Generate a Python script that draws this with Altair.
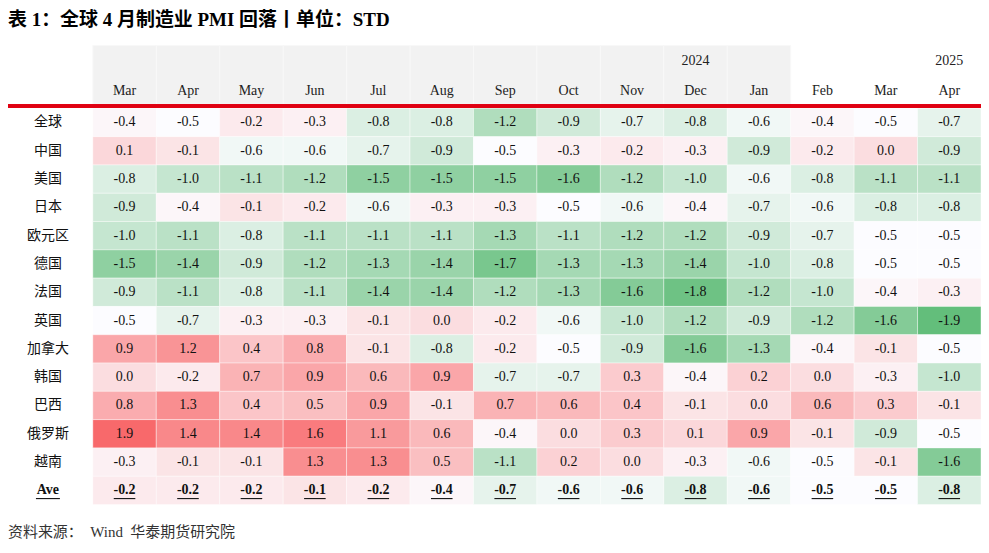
import altair as alt
import pandas as pd

# ---------------- data ----------------
months = ["Mar", "Apr", "May", "Jun", "Jul", "Aug", "Sep", "Oct", "Nov", "Dec", "Jan", "Feb", "Mar", "Apr"]
year_cols = [9, 13]
year_text = ["2024", "2025"]
shaded_header_cols = 11

rows = ["全球", "中国", "美国", "日本", "欧元区", "德国", "法国", "英国", "加拿大", "韩国", "巴西", "俄罗斯", "越南", "Ave"]

v_global = [-0.4, -0.5, -0.2, -0.3, -0.8, -0.8, -1.2, -0.9, -0.7, -0.8, -0.6, -0.4, -0.5, -0.7]
v_china = [0.1, -0.1, -0.6, -0.6, -0.7, -0.9, -0.5, -0.3, -0.2, -0.3, -0.9, -0.2, 0.0, -0.9]
v_us = [-0.8, -1.0, -1.1, -1.2, -1.5, -1.5, -1.5, -1.6, -1.2, -1.0, -0.6, -0.8, -1.1, -1.1]
v_japan = [-0.9, -0.4, -0.1, -0.2, -0.6, -0.3, -0.3, -0.5, -0.6, -0.4, -0.7, -0.6, -0.8, -0.8]
v_euro = [-1.0, -1.1, -0.8, -1.1, -1.1, -1.1, -1.3, -1.1, -1.2, -1.2, -0.9, -0.7, -0.5, -0.5]
v_germany = [-1.5, -1.4, -0.9, -1.2, -1.3, -1.4, -1.7, -1.3, -1.3, -1.4, -1.0, -0.8, -0.5, -0.5]
v_france = [-0.9, -1.1, -0.8, -1.1, -1.4, -1.4, -1.2, -1.3, -1.6, -1.8, -1.2, -1.0, -0.4, -0.3]
v_uk = [-0.5, -0.7, -0.3, -0.3, -0.1, 0.0, -0.2, -0.6, -1.0, -1.2, -0.9, -1.2, -1.6, -1.9]
v_canada = [0.9, 1.2, 0.4, 0.8, -0.1, -0.8, -0.2, -0.5, -0.9, -1.6, -1.3, -0.4, -0.1, -0.5]
v_korea = [0.0, -0.2, 0.7, 0.9, 0.6, 0.9, -0.7, -0.7, 0.3, -0.4, 0.2, 0.0, -0.3, -1.0]
v_brazil = [0.8, 1.3, 0.4, 0.5, 0.9, -0.1, 0.7, 0.6, 0.4, -0.1, 0.0, 0.6, 0.3, -0.1]
v_russia = [1.9, 1.4, 1.4, 1.6, 1.1, 0.6, -0.4, 0.0, 0.3, 0.1, 0.9, -0.1, -0.9, -0.5]
v_vietnam = [-0.3, -0.1, -0.1, 1.3, 1.3, 0.5, -1.1, 0.2, 0.0, -0.3, -0.6, -0.5, -0.1, -1.6]
v_ave = [-0.2, -0.2, -0.2, -0.1, -0.2, -0.4, -0.7, -0.6, -0.6, -0.8, -0.6, -0.5, -0.5, -0.8]

matrix = [v_global, v_china, v_us, v_japan, v_euro, v_germany, v_france, v_uk,
          v_canada, v_korea, v_brazil, v_russia, v_vietnam, v_ave]

title_text = "表 1：全球 4 月制造业 PMI 回落丨单位：STD"
source_text = "资料来源：\u00a0\u00a0Wind\u00a0\u00a0华泰期货研究院"

# ---------------- tables ----------------
cells = []
for r, (name, vals) in enumerate(zip(rows, matrix)):
    for c, v in enumerate(vals):
        cells.append({"r": r, "c": c, "v": v, "label": f"{v:.1f}", "ave": name == "Ave"})
cells = pd.DataFrame(cells)

head = pd.DataFrame({"c": list(range(len(months))), "month": months})
head["shaded"] = head["c"] < shaded_header_cols
years = pd.DataFrame({"c": year_cols, "year": year_text})
rowdf = pd.DataFrame({"r": list(range(len(rows))), "name": rows})

W, H = 975, 533
SERIF = "Liberation Serif, Noto Sans CJK SC"
CJK = "Noto Sans CJK SC"
FS = 14

xs = alt.Scale(domain=[0, 14], range=[85, 975], nice=False, zero=False)
ys = alt.Scale(domain=[0, 14], range=[100, 497], nice=False, zero=False)
cs = alt.Scale(domain=[-1.9, -0.5, 1.9], range=["#63BE7B", "#FCFCFF", "#F8696B"], interpolate="rgb")

base_cells = alt.Chart(cells).transform_calculate(
    c2="datum.c + 1", r2="datum.r + 1", cm="datum.c + 0.5", rm="datum.r + 0.5"
)

header_rect = alt.Chart(head).transform_filter("datum.shaded").transform_calculate(
    c2="datum.c + 1"
).mark_rect(color="#f2f2f2", stroke="#f8f8f8", strokeWidth=1).encode(
    x=alt.X("c:Q", scale=xs, axis=None), x2="c2:Q",
    y=alt.value(37), y2=alt.value(96)
)

month_text = alt.Chart(head).transform_calculate(cm="datum.c + 0.5").mark_text(
    font=SERIF, fontSize=FS, color="#222222"
).encode(x=alt.X("cm:Q", scale=xs, axis=None), y=alt.value(83), text="month:N")

year_mark = alt.Chart(years).transform_calculate(cm="datum.c + 0.5").mark_text(
    font=SERIF, fontSize=FS, color="#222222"
).encode(x=alt.X("cm:Q", scale=xs, axis=None), y=alt.value(53), text="year:N")

red_line = alt.Chart(head).mark_rule(color="#e00012", strokeWidth=2.4).encode(
    x=alt.value(0), x2=alt.value(W), y=alt.value(97.7)
)

cell_rect = base_cells.mark_rect(stroke="#ffffff", strokeWidth=0.8, strokeOpacity=0.5).encode(
    x=alt.X("c:Q", scale=xs, axis=None), x2="c2:Q",
    y=alt.Y("r:Q", scale=ys, axis=None), y2="r2:Q",
    color=alt.Color("v:Q", scale=cs, legend=None),
)

cell_text = base_cells.transform_filter("!datum.ave").mark_text(
    font=SERIF, fontSize=FS, color="#111111"
).encode(x=alt.X("cm:Q", scale=xs, axis=None), y=alt.Y("rm:Q", scale=ys, axis=None), text="label:N")

ave_text = base_cells.transform_filter("datum.ave").mark_text(
    font=SERIF, fontSize=FS, fontWeight="bold", color="#111111"
).encode(x=alt.X("cm:Q", scale=xs, axis=None), y=alt.Y("rm:Q", scale=ys, axis=None), text="label:N")

ave_underline = base_cells.transform_filter("datum.ave").transform_calculate(
    ux1="datum.c + 0.5 - 0.17", ux2="datum.c + 0.5 + 0.17", uy="datum.r + 0.79"
).mark_rule(color="#111111", strokeWidth=1.1).encode(
    x=alt.X("ux1:Q", scale=xs, axis=None), x2="ux2:Q",
    y=alt.Y("uy:Q", scale=ys, axis=None)
)

row_text = alt.Chart(rowdf).transform_filter("datum.name != 'Ave'").transform_calculate(
    rm="datum.r + 0.5"
).mark_text(font=CJK, fontSize=FS, color="#111111").encode(
    x=alt.value(40), y=alt.Y("rm:Q", scale=ys, axis=None), text="name:N"
)

ave_label = alt.Chart(rowdf).transform_filter("datum.name == 'Ave'").transform_calculate(
    rm="datum.r + 0.5"
).mark_text(font=SERIF, fontSize=FS, fontWeight="bold", color="#111111").encode(
    x=alt.value(40), y=alt.Y("rm:Q", scale=ys, axis=None), text="name:N"
)

ave_label_ul = alt.Chart(rowdf).transform_filter("datum.name == 'Ave'").transform_calculate(
    uy="datum.r + 0.79"
).mark_rule(color="#111111", strokeWidth=1.1).encode(
    x=alt.value(28), x2=alt.value(52), y=alt.Y("uy:Q", scale=ys, axis=None)
)

title_mark = alt.Chart(pd.DataFrame({"t": [title_text]})).mark_text(
    font=SERIF, fontSize=19, fontWeight="bold", color="#000000", align="left", baseline="middle"
).encode(x=alt.value(0), y=alt.value(11), text="t:N")

source_mark = alt.Chart(pd.DataFrame({"t": [source_text]})).mark_text(
    font=SERIF, fontSize=15, color="#333333", align="left", baseline="middle"
).encode(x=alt.value(0), y=alt.value(525), text="t:N")

chart = alt.layer(
    header_rect, month_text, year_mark, cell_rect, red_line, cell_text, ave_text,
    ave_underline, row_text, ave_label, ave_label_ul, title_mark, source_mark
).properties(
    width=W, height=H, padding=0, autosize=alt.AutoSizeParams(type="none")
).configure_view(stroke=None)

chart.save("out.html", embed_options={"renderer": "svg", "actions": False})
